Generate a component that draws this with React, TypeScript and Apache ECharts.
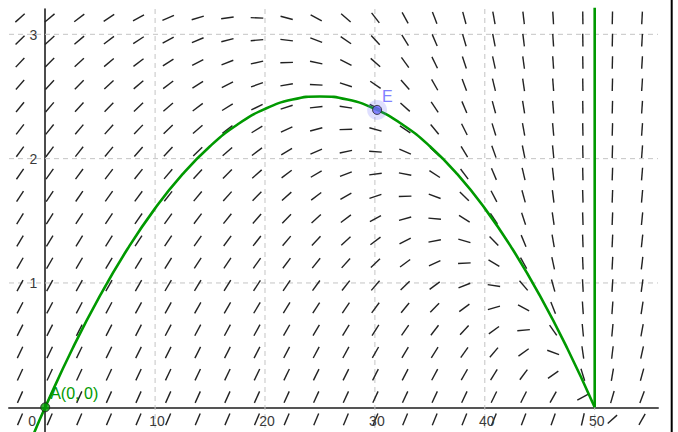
import React, { useEffect, useRef } from "react";
import * as echarts from "echarts";

// Visible window of the view (axis units)
const X_MIN = -3.294;
const X_MAX = 55.76;
const Y_MIN = -0.1987;
const Y_MAX = 3.2036;

// Grid lines and tick labels
const xGridValues = [10, 20, 30, 40, 50];
const yGridValues = [1, 2, 3];
const xTickValues = [0, 10, 20, 30, 40, 50];
const xTickLabels = ["0", "10", "20", "30", "40", "50"];
const yTickValues = [1, 2, 3];
const yTickLabels = ["1", "2", "3"];

// Slope field sample grid (columns / rows)
const fieldXs = [
  -2.29, 0.41, 3.1, 5.8, 8.49, 11.19, 13.88, 16.58, 19.27, 21.97, 24.66,
  27.36, 30.05, 32.75, 35.44, 38.14, 40.83, 43.53, 46.22, 48.92, 51.61, 54.31,
];
const fieldYs = [
  3.132, 2.953, 2.773, 2.594, 2.414, 2.235, 2.056, 1.876, 1.697, 1.517, 1.338,
  1.159, 0.979, 0.8, 0.62, 0.441, 0.262, 0.082, -0.097,
];

// Differential equation shown by the field: y' = rate - k*y/(cap - x)
const odeRate = 0.2;
const odeK = 2;
const odeCap = 50;
function slopeAt(x: number, y: number): number {
  return odeRate - (odeK * y) / (odeCap - x);
}

// Solution curve through A
const curveXs = [
  -1, 0, 2.5, 5, 7.5, 10, 12.5, 15, 17.5, 20, 22.5, 25, 27.5, 30, 32.5, 35,
  37.5, 40, 42.5, 45, 47.5, 50,
];
const curveYs = [
  -0.204, 0, 0.475, 0.9, 1.275, 1.6, 1.875, 2.1, 2.275, 2.4, 2.475, 2.5, 2.475,
  2.4, 2.275, 2.1, 1.875, 1.6, 1.275, 0.9, 0.475, 0,
];
const verticalXs = [50, 50];
const verticalYs = [0, 3.4];

const pointNames = ["A(0, 0)", "E"];
const pointXs = [0, 30.2];
const pointYs = [0, 2.392];

const GREEN = "#009900";
const FONT = '"Liberation Sans", Arial, sans-serif';

export default function App() {
  const ref = useRef<HTMLDivElement>(null);

  useEffect(() => {
    if (!ref.current) return;
    document.body.style.margin = "0";
    const chart = echarts.init(ref.current, undefined, { renderer: "svg" });

    const gridItems: { v: number; vertical: boolean }[] = [
      ...xGridValues.map((v) => ({ v, vertical: true })),
      ...yGridValues.map((v) => ({ v, vertical: false })),
    ];

    const fieldData: number[][] = [];
    fieldXs.forEach((x) => fieldYs.forEach((y) => fieldData.push([x, y])));

    type LabelItem = { x: number; y: number; text: string; kind: string };
    const labelItems: LabelItem[] = [
      ...xTickValues.map((v, i) => ({ x: v, y: 0, text: xTickLabels[i], kind: "x" })),
      ...yTickValues.map((v, i) => ({ x: 0, y: v, text: yTickLabels[i], kind: "y" })),
      { x: pointXs[0], y: pointYs[0], text: pointNames[0], kind: "A" },
      { x: pointXs[1], y: pointYs[1], text: pointNames[1], kind: "E" },
    ];

    const option: any = {
      animation: false,
      backgroundColor: "#ffffff",
      grid: { left: 9, right: 20, top: 9, bottom: 0, outerBoundsMode: "none" },
      xAxis: {
        type: "value",
        min: X_MIN,
        max: X_MAX,
        axisLine: { show: true, onZero: true, lineStyle: { color: "#555555", width: 2 } },
        axisTick: { show: false },
        axisLabel: { show: false },
        splitLine: { show: false },
      },
      yAxis: {
        type: "value",
        min: Y_MIN,
        max: Y_MAX,
        axisLine: { show: true, onZero: true, lineStyle: { color: "#111111", width: 1.5 } },
        axisTick: { show: false },
        axisLabel: { show: false },
        splitLine: { show: false },
      },
      series: [
        {
          type: "custom",
          z: 1,
          silent: true,
          data: gridItems.map((g) => [g.v, g.vertical ? 1 : 0]),
          renderItem: (params: any, api: any) => {
            const v = api.value(0);
            const vertical = api.value(1) === 1;
            const cs = params.coordSys;
            if (vertical) {
              const p = api.coord([v, 0]);
              return {
                type: "line",
                shape: { x1: p[0], y1: cs.y, x2: p[0], y2: cs.y + cs.height },
                style: { stroke: "#c4c4c4", lineWidth: 1, lineDash: [5, 4] },
              };
            }
            const p = api.coord([0, v]);
            return {
              type: "line",
              shape: { x1: cs.x, y1: p[1], x2: cs.x + cs.width, y2: p[1] },
              style: { stroke: "#c4c4c4", lineWidth: 1, lineDash: [5, 4] },
            };
          },
        },
        {
          type: "custom",
          z: 2,
          silent: true,
          data: fieldData,
          renderItem: (params: any, api: any) => {
            const x = api.value(0);
            const y = api.value(1);
            const s = slopeAt(x, y);
            const c = api.coord([x, y]);
            const c2 = api.coord([x + 1, y + s]);
            const dx = c2[0] - c[0];
            const dy = c2[1] - c[1];
            const len = Math.hypot(dx, dy) || 1;
            const h = 6.3;
            const ux = (dx / len) * h;
            const uy = (dy / len) * h;
            return {
              type: "line",
              shape: { x1: c[0] - ux, y1: c[1] - uy, x2: c[0] + ux, y2: c[1] + uy },
              style: { stroke: "#222222", lineWidth: 1.4 },
            };
          },
        },
        {
          type: "line",
          z: 3,
          silent: true,
          smooth: true,
          symbol: "none",
          clip: true,
          data: curveXs.map((x, i) => [x, curveYs[i]]),
          lineStyle: { color: GREEN, width: 2.6 },
        },
        {
          type: "line",
          z: 3,
          silent: true,
          symbol: "none",
          clip: true,
          data: verticalXs.map((x, i) => [x, verticalYs[i]]),
          lineStyle: { color: GREEN, width: 2.6 },
        },
        {
          type: "scatter",
          z: 4,
          silent: true,
          symbolSize: 20,
          data: [[pointXs[1], pointYs[1]]],
          itemStyle: { color: "rgba(110,110,255,0.28)" },
        },
        {
          type: "scatter",
          z: 5,
          silent: true,
          symbolSize: 9,
          data: [
            { value: [pointXs[0], pointYs[0]], itemStyle: { color: GREEN } },
            { value: [pointXs[1], pointYs[1]], itemStyle: { color: "#6b6bff" } },
          ],
          itemStyle: { borderColor: "#1e1e1e", borderWidth: 1 },
        },
        {
          type: "custom",
          z: 6,
          silent: true,
          data: labelItems.map((l) => [l.x, l.y]),
          renderItem: (params: any, api: any) => {
            const it = labelItems[params.dataIndex];
            const p = api.coord([it.x, it.y]);
            let dx = 0;
            let dy = 0;
            let align = "center";
            let fill = "#3a3a3a";
            let size = 14;
            if (it.kind === "x") {
              dx = it.x === 0 ? -13 : 2;
              dy = 14;
            } else if (it.kind === "y") {
              dx = -8;
              dy = 0.5;
              align = "right";
            } else if (it.kind === "A") {
              dx = 5;
              dy = -14;
              align = "left";
              fill = GREEN;
              size = 16;
            } else {
              dx = 5;
              dy = -13;
              align = "left";
              fill = "#8080ff";
              size = 16;
            }
            return {
              type: "text",
              x: p[0] + dx,
              y: p[1] + dy,
              style: {
                text: it.text,
                fill,
                fontSize: size,
                fontFamily: FONT,
                align,
                verticalAlign: "middle",
              },
            };
          },
        },
      ],
      graphic: [
        {
          type: "line",
          shape: { x1: 671.7, y1: 0, x2: 671.7, y2: 432 },
          style: { stroke: "#000000", lineWidth: 2 },
        },
      ],
    };

    chart.setOption(option);
    return () => chart.dispose();
  }, []);

  return (
    <div
      ref={ref}
      style={{ position: "fixed", left: 0, top: 0, width: 678, height: 432 }}
    />
  );
}
